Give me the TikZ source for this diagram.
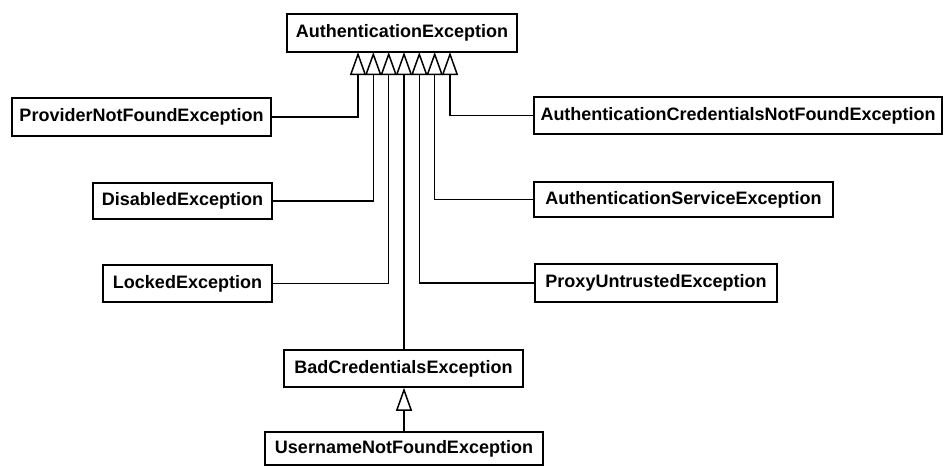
\documentclass[tikz,border=0pt]{standalone}
\usepackage{fontspec}
\setmainfont{Liberation Sans}
\usetikzlibrary{arrows.meta}
\begin{document}
\begin{tikzpicture}[x=1pt,y=-1pt,
  cls/.style={draw=black, line width=1.5pt, inner sep=0pt, font=\fontsize{18}{20}\selectfont\bfseries, anchor=center},
  inh/.style={draw=black, line width=1.5pt, -{Triangle[open, length=23pt, width=16pt, line width=1.5pt]}},
  ln/.style={draw=black, line width=1.5pt}]
\useasboundingbox (0,0) rectangle (944,466);
\node[cls, minimum width=230pt, minimum height=38pt] (auth) at (402,33) {AuthenticationException};
\node[cls, minimum width=259pt, minimum height=38pt] (provider) at (141.5,117) {ProviderNotFoundException};
\node[cls, minimum width=179pt, minimum height=36pt] (disabled) at (182.5,201) {DisabledException};
\node[cls, minimum width=169pt, minimum height=37pt] (locked) at (187.5,283.5) {LockedException};
\node[cls, minimum width=408pt, minimum height=37pt] (credsnf) at (738,115.5) {AuthenticationCredentialsNotFoundException};
\node[cls, minimum width=299pt, minimum height=35pt] (service) at (683.5,199.5) {AuthenticationServiceException};
\node[cls, minimum width=242pt, minimum height=38pt] (proxy) at (656,283) {ProxyUntrustedException};
\node[cls, minimum width=239pt, minimum height=37pt] (badcred) at (403.5,368.5) {BadCredentialsException};
\node[cls, minimum width=278pt, minimum height=33pt] (username) at (404,448.5) {UsernameNotFoundException};
\coordinate (a1) at (358,52);
\coordinate (a2) at (373.3,52);
\coordinate (a3) at (388.7,52);
\coordinate (a4) at (404,52);
\coordinate (a5) at (419.3,52);
\coordinate (a6) at (434.7,52);
\coordinate (a7) at (450,52);
\draw[inh] (provider.east) -| (a1);
\draw[inh] (disabled.east) -| (a2);
\draw[inh] (locked.east) -| (a3);
\draw[inh] (badcred.north -| a4) -- (a4);
\draw[inh] (proxy.west) -| (a5);
\draw[inh] (service.west) -| (a6);
\draw[inh] (credsnf.west) -| (a7);
\draw[inh] (username.north) -- (username.north |- badcred.south);
\end{tikzpicture}
\end{document}
